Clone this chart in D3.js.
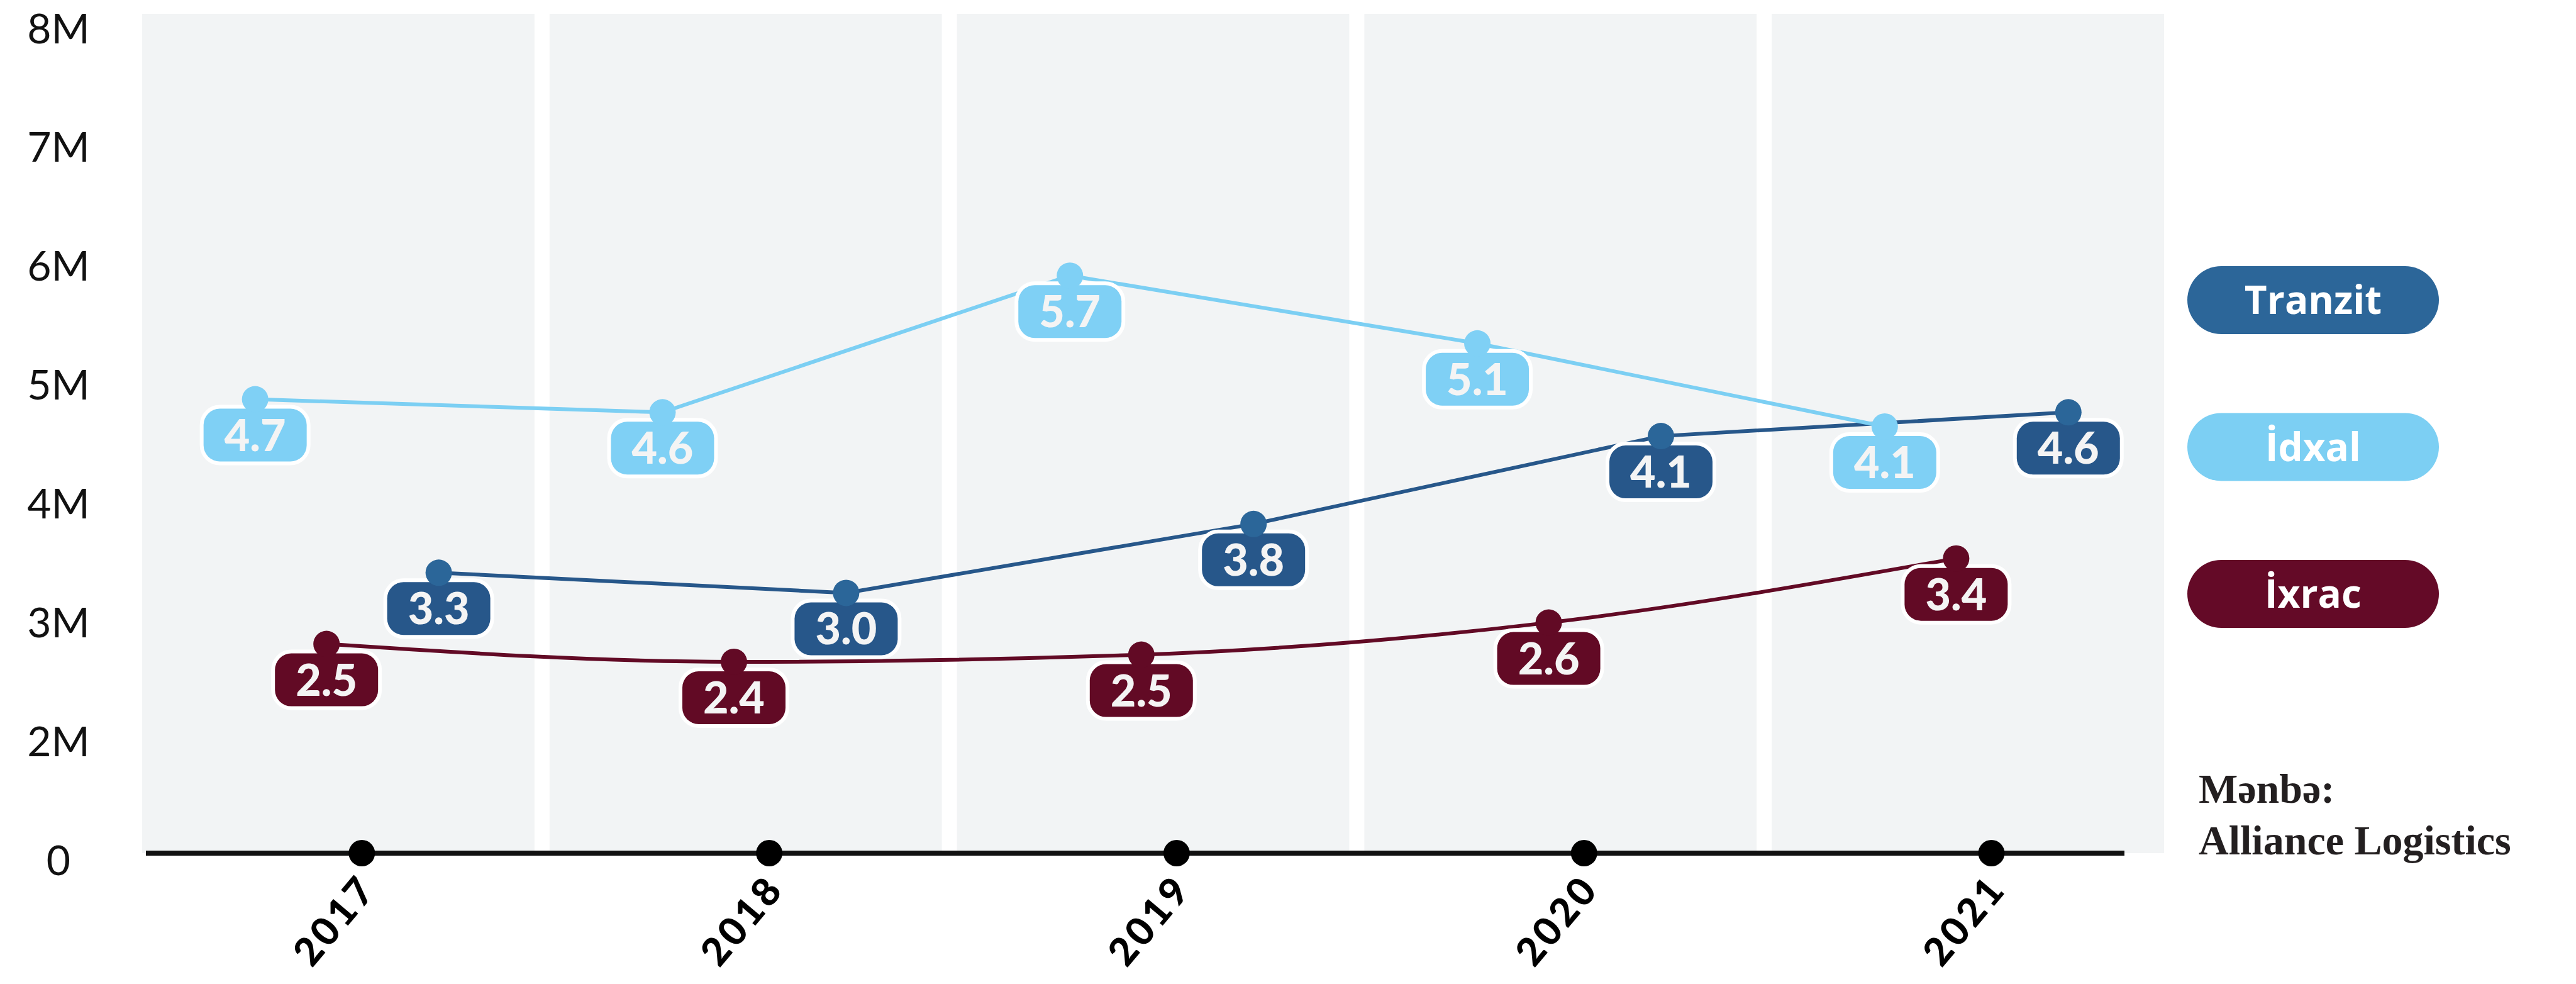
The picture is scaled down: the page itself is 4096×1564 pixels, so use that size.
<!DOCTYPE html>
<html>
<head>
<meta charset="utf-8">
<script src="https://cdn.jsdelivr.net/npm/d3@7"></script>
<style>
  body { margin: 0; background: #fff; }
  svg { display: block; }
</style>
</head>
<body>
<div id="chart"></div>
<script>
var years = ['2017', '2018', '2019', '2020', '2021'];

// marker heights as drawn (millions) and the labels printed in the badges
var tranzit = [3.36, 3.19, 3.77, 4.51, 4.71],
    idxal = [4.82, 4.71, 5.86, 5.29, 4.59],
    ixrac = [2.76, 2.61, 2.67, 2.94, 3.48];
var tranzitLabels = ['3.3', '3.0', '3.8', '4.1', '4.6'],
    idxalLabels = ['4.7', '4.6', '5.7', '5.1', '4.1'],
    ixracLabels = ['2.5', '2.4', '2.5', '2.6', '3.4'];

var legendNames = ['Tranzit', 'İdxal', 'İxrac'];
var yTicks = [1, 2, 3, 4, 5, 6, 7, 8],
    yTickLabels = ['0', '2M', '3M', '4M', '5M', '6M', '7M', '8M'];
var sourceLines = ['Mənbə:', 'Alliance Logistics'];

var width = 4096, height = 1564;

var svg = d3.select('#chart').append('svg')
    .attr('width', width)
    .attr('height', height);

var xBand = d3.scaleBand().domain(years).range([226, 3441]).paddingInner(0.037),
    y = d3.scaleLinear().domain([1, 8]).range([1356, 34]),
    bw = xBand.bandwidth();

// each series sits at its own spot inside the year band
var seriesOffset = d3.scaleOrdinal()
    .domain(['İdxal', 'İxrac', 'Tranzit'])
    .range([-0.212, -0.03, 0.256]);

function xc(year) { return xBand(year) + bw / 2; }
function xYear(year) { return xc(year) + 0.06 * bw; }

var series = [
  {name: 'İxrac', values: ixrac, labels: ixracLabels, line: '#620a25', badge: '#620a25', dot: '#620a25', curve: d3.curveMonotoneX},
  {name: 'Tranzit', values: tranzit, labels: tranzitLabels, line: '#27578a', badge: '#27578a', dot: '#2b6699', curve: d3.curveLinear},
  {name: 'İdxal', values: idxal, labels: idxalLabels, line: '#7ccff3', badge: '#7fd0f5', dot: '#7fd0f5', curve: d3.curveLinear}
];
var legendColour = d3.scaleOrdinal().domain(legendNames).range(['#2c6699', '#7ccff3', '#640a27']);

series.forEach(function(s) {
  s.points = years.map(function(yr, i) {
    return {x: xc(yr) + seriesOffset(s.name) * bw, y: y(s.values[i]), label: s.labels[i]};
  });
});

// background bands
svg.append('g').selectAll('rect')
    .data(years)
  .enter().append('rect')
    .attr('x', function(d) { return xBand(d); })
    .attr('y', y(8) - 12)
    .attr('width', bw)
    .attr('height', y(1) - y(8) + 12)
    .style('fill', '#f2f4f5');

// baseline with year dots
svg.append('line')
    .attr('x1', xBand.range()[0] + 6)
    .attr('x2', xBand.range()[1] - 63)
    .attr('y1', y(1))
    .attr('y2', y(1))
    .style('stroke', '#111')
    .style('stroke-width', 8);

svg.append('g').selectAll('circle')
    .data(years)
  .enter().append('circle')
    .attr('cx', xYear)
    .attr('cy', y(1))
    .attr('r', 21)
    .style('fill', '#000');

// y axis
var yAxis = svg.append('g')
    .call(d3.axisLeft(y).tickValues(yTicks).tickSize(0)
      .tickFormat(function(d, i) { return yTickLabels[i]; }));
yAxis.select('.domain').remove();
yAxis.selectAll('text')
    .attr('x', 93)
    .attr('dy', 34)
    .style('text-anchor', 'middle')
    .style('font-family', 'Lato, sans-serif')
    .style('font-weight', 400)
    .style('font-size', '66px')
    .style('fill', '#111');

// x labels
svg.append('g').selectAll('text')
    .data(years)
  .enter().append('text')
    .attr('transform', function(d) { return 'translate(' + (xYear(d) + 26) + ',' + (y(1) + 58) + ') rotate(-50)'; })
    .style('text-anchor', 'end')
    .style('font-family', 'Lato, sans-serif')
    .style('font-weight', 900)
    .style('font-size', '62px')
    .style('letter-spacing', '5px')
    .style('fill', '#000')
    .text(function(d) { return d; });

// lines
series.forEach(function(s) {
  svg.append('path')
      .datum(s.points)
      .attr('d', d3.line().x(function(d) { return d.x; }).y(function(d) { return d.y; }).curve(s.curve))
      .style('fill', 'none')
      .style('stroke', s.line)
      .style('stroke-width', 6);
});

// value badges
series.forEach(function(s) {
  var g = svg.append('g').selectAll('g')
      .data(s.points)
    .enter().append('g')
      .attr('transform', function(d) { return 'translate(' + d.x + ',' + (d.y + 57) + ')'; });
  g.append('rect')
      .attr('x', -82)
      .attr('y', -42)
      .attr('width', 164)
      .attr('height', 84)
      .attr('rx', 26)
      .style('fill', s.badge)
      .style('stroke', '#fff')
      .style('stroke-width', 12)
      .style('paint-order', 'stroke');
  g.append('text')
      .attr('y', 25)
      .style('text-anchor', 'middle')
      .style('font-family', 'Lato, sans-serif')
      .style('font-weight', 900)
      .style('font-size', '70px')
      .style('fill', '#f4f4f4')
      .text(function(d) { return d.label; });
});

// markers
series.forEach(function(s) {
  svg.append('g').selectAll('circle')
      .data(s.points)
    .enter().append('circle')
      .attr('cx', function(d) { return d.x; })
      .attr('cy', function(d) { return d.y; })
      .attr('r', 21)
      .style('fill', s.dot);
});

// legend
var legendY = d3.scalePoint().domain(legendNames).range([477, 944]);
var legend = svg.selectAll('.legend')
    .data(legendNames)
  .enter().append('g')
    .attr('class', 'legend')
    .attr('transform', function(d) { return 'translate(3678,' + legendY(d) + ')'; });

legend.append('rect')
    .attr('x', -200)
    .attr('y', -54)
    .attr('width', 400)
    .attr('height', 108)
    .attr('rx', 54)
    .style('fill', legendColour);

legend.append('text')
    .attr('y', 22)
    .style('text-anchor', 'middle')
    .style('font-family', '"Open Sans", sans-serif')
    .style('font-weight', 700)
    .style('font-size', '62px')
    .style('fill', '#fff')
    .text(function(d) { return d; });

// source note
svg.append('g').selectAll('text')
    .data(sourceLines)
  .enter().append('text')
    .attr('x', 3496)
    .attr('y', function(d, i) { return 1276 + i * 82; })
    .style('font-family', '"Liberation Serif", serif')
    .style('font-weight', 700)
    .style('font-size', '66px')
    .style('fill', '#231f20')
    .text(function(d) { return d; });
</script>
</body>
</html>
